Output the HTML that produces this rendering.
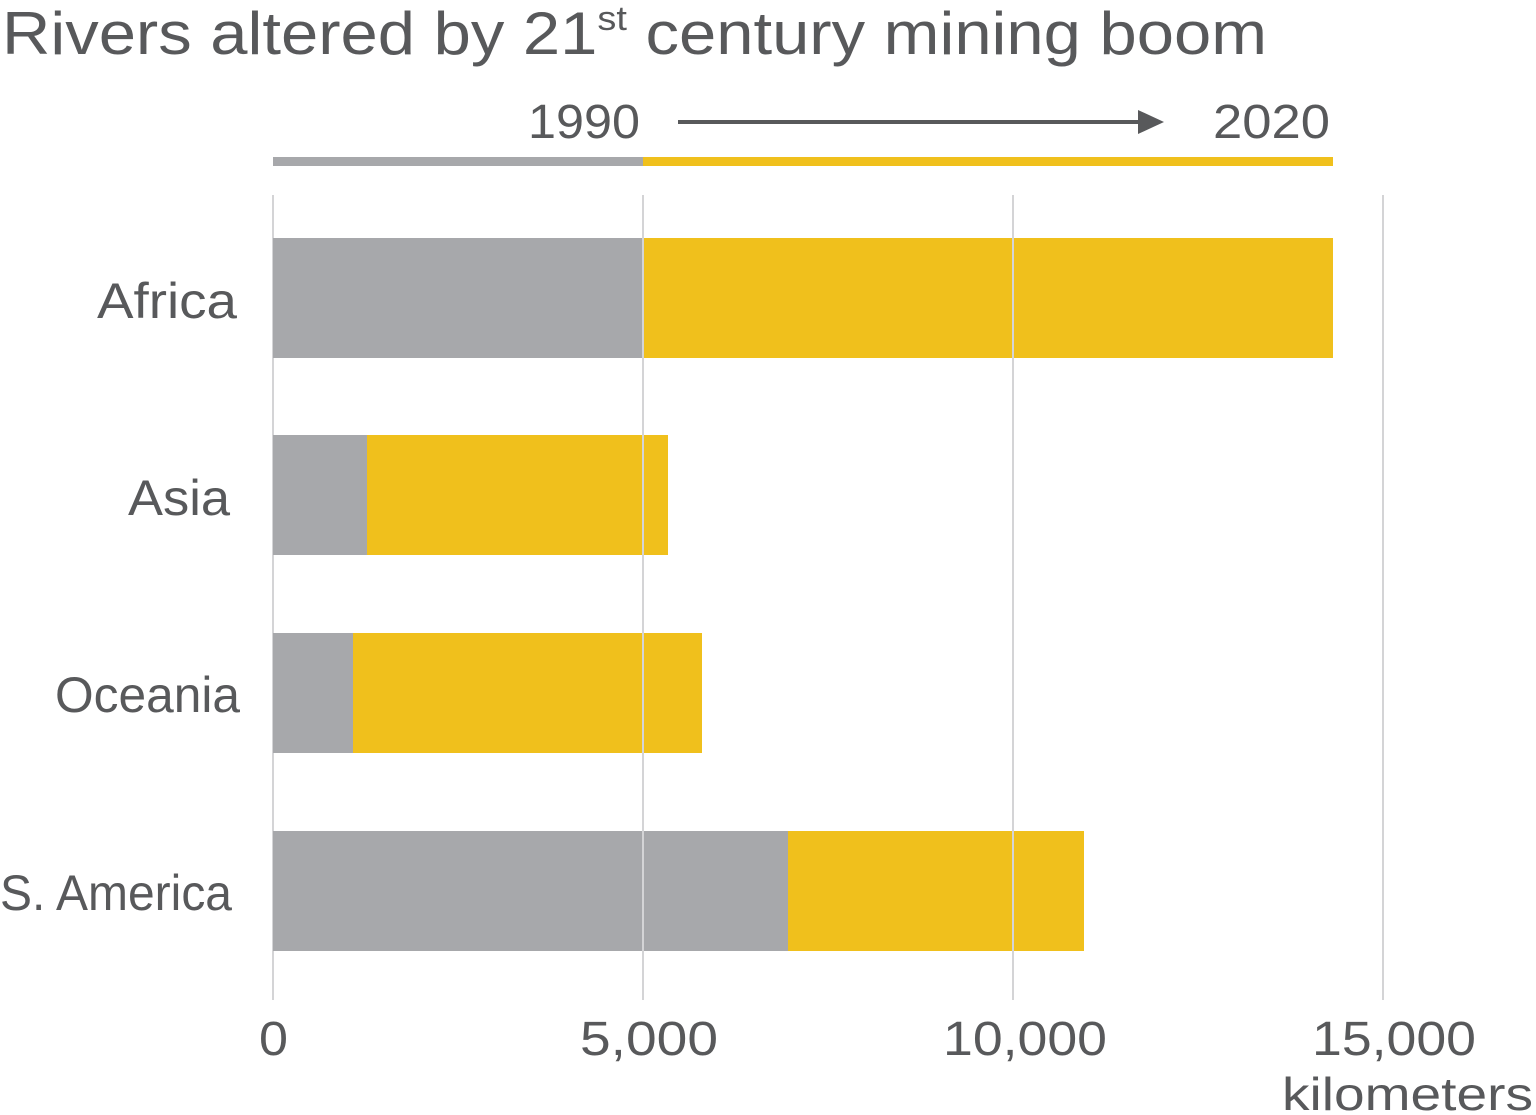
<!DOCTYPE html>
<html><head><meta charset="utf-8"><style>
html,body{margin:0;padding:0;background:#fff;}
svg{display:block;}
text{font-family:"Liberation Sans",sans-serif;fill:#58595b;}
</style></head><body>
<svg width="1536" height="1115" viewBox="0 0 1536 1115" xmlns="http://www.w3.org/2000/svg">
<text x="2" y="54" font-size="60" textLength="1265" lengthAdjust="spacingAndGlyphs">Rivers altered by 21<tspan font-size="34" dy="-24">st</tspan><tspan dy="24"> century mining boom</tspan></text>
<text x="528" y="138" font-size="48" textLength="112" lengthAdjust="spacingAndGlyphs">1990</text>
<text x="1213" y="138" font-size="48" textLength="117" lengthAdjust="spacingAndGlyphs">2020</text>
<line x1="678" y1="122" x2="1140" y2="122" stroke="#58595b" stroke-width="4"/>
<polygon points="1138,110 1164,122 1138,134" fill="#58595b"/>
<rect x="273" y="157" width="370" height="9" fill="#a7a8ab"/>
<rect x="643" y="157" width="690" height="9" fill="#f0c01c"/>
<g stroke="#d4d4d6" stroke-width="2">
<line x1="273" y1="195" x2="273" y2="1000"/>
<line x1="643" y1="195" x2="643" y2="1000"/>
<line x1="1013" y1="195" x2="1013" y2="1000"/>
<line x1="1383" y1="195" x2="1383" y2="1000"/>
</g>
<rect x="273" y="238" width="370" height="120" fill="#a7a8ab"/>
<rect x="643" y="238" width="690" height="120" fill="#f0c01c"/>
<rect x="273" y="435" width="94" height="120" fill="#a7a8ab"/>
<rect x="367" y="435" width="301" height="120" fill="#f0c01c"/>
<rect x="273" y="633" width="80" height="120" fill="#a7a8ab"/>
<rect x="353" y="633" width="349" height="120" fill="#f0c01c"/>
<rect x="273" y="831" width="515" height="120" fill="#a7a8ab"/>
<rect x="788" y="831" width="296" height="120" fill="#f0c01c"/>
<g stroke="#d4d4d6" stroke-width="2">
<line x1="643" y1="238" x2="643" y2="358"/>
<line x1="643" y1="435" x2="643" y2="555"/>
<line x1="643" y1="633" x2="643" y2="753"/>
<line x1="643" y1="831" x2="643" y2="951"/>
<line x1="1013" y1="831" x2="1013" y2="951"/>
<line x1="1013" y1="238" x2="1013" y2="358"/>
</g>
<g font-size="50" lengthAdjust="spacingAndGlyphs">
<text x="97" y="318" textLength="140" lengthAdjust="spacingAndGlyphs">Africa</text>
<text x="128" y="515" textLength="102" lengthAdjust="spacingAndGlyphs">Asia</text>
<text x="55" y="712" textLength="185" lengthAdjust="spacingAndGlyphs">Oceania</text>
<text x="0" y="910" textLength="232" lengthAdjust="spacingAndGlyphs">S. America</text>
</g>
<g font-size="48">
<text x="259" y="1055" textLength="29" lengthAdjust="spacingAndGlyphs">0</text>
<text x="580" y="1055" textLength="138" lengthAdjust="spacingAndGlyphs">5,000</text>
<text x="943" y="1055" textLength="164" lengthAdjust="spacingAndGlyphs">10,000</text>
<text x="1312" y="1055" textLength="164" lengthAdjust="spacingAndGlyphs">15,000</text>
</g>
<text x="1282" y="1110" font-size="46" textLength="251" lengthAdjust="spacingAndGlyphs">kilometers</text>
</svg>
</body></html>
